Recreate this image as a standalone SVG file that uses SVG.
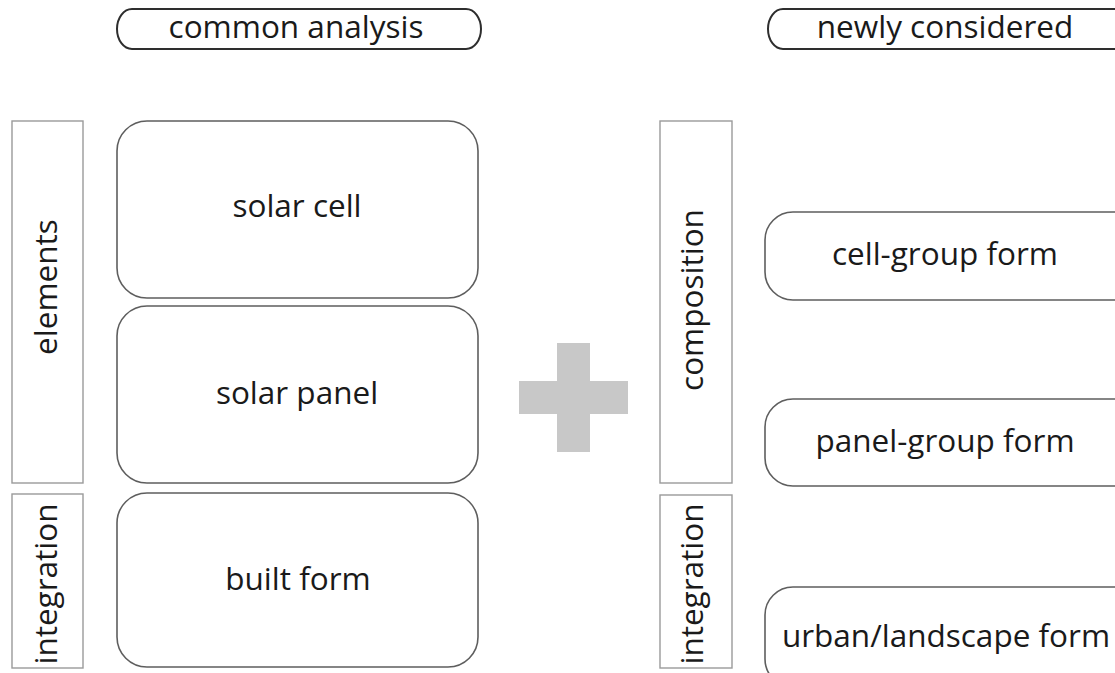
<svg xmlns="http://www.w3.org/2000/svg" width="1115" height="673" viewBox="0 0 1115 673">
  <style>
    .bg { fill: #ffffff; }
    .head { fill: #ffffff; stroke: #2e2e2e; stroke-width: 2; }
    .node { fill: #ffffff; stroke: #5e5e5e; stroke-width: 1.6; }
    .side { fill: #ffffff; stroke: #9a9a9a; stroke-width: 1.4; }
    .plus { fill: #c8c8c8; }
    text { font-family: "Open Sans", "Noto Sans", "DejaVu Sans", sans-serif; fill: #1a1a1a; text-anchor: middle; font-size: 31.5px; }
  </style>
  <rect class="bg" x="0" y="0" width="1115" height="673"/>

  <!-- column headers -->
  <g id="head-common">
    <rect class="head" x="117" y="9" width="364" height="40" rx="15" ry="20"/>
    <text x="296" y="38">common analysis</text>
  </g>
  <g id="head-new">
    <rect class="head" x="768" y="9" width="370" height="40" rx="15" ry="20"/>
    <text x="945" y="38">newly considered</text>
  </g>

  <!-- side category bars, left column -->
  <g id="cat-elements">
    <rect class="side" x="12" y="121" width="71" height="362"/>
    <text transform="translate(57 287) rotate(-90)">elements</text>
  </g>
  <g id="cat-integration-left">
    <rect class="side" x="12" y="494" width="71" height="174"/>
    <text transform="translate(57 584) rotate(-90)">integration</text>
  </g>

  <!-- common analysis nodes -->
  <g id="node-solar-cell">
    <rect class="node" x="117" y="121" width="361" height="177" rx="30"/>
    <text x="297" y="217">solar cell</text>
  </g>
  <g id="node-solar-panel">
    <rect class="node" x="117" y="306" width="361" height="177" rx="30"/>
    <text x="297" y="404">solar panel</text>
  </g>
  <g id="node-built-form">
    <rect class="node" x="117" y="493" width="361" height="174" rx="30"/>
    <text x="298" y="590">built form</text>
  </g>

  <!-- plus sign between the columns -->
  <g id="plus">
    <rect class="plus" x="519" y="381" width="109" height="33"/>
    <rect class="plus" x="557" y="343" width="33" height="109"/>
  </g>

  <!-- side category bars, right column -->
  <g id="cat-composition">
    <rect class="side" x="660" y="121" width="72" height="362"/>
    <text transform="translate(703 300) rotate(-90)">composition</text>
  </g>
  <g id="cat-integration-right">
    <rect class="side" x="660" y="495" width="72" height="173"/>
    <text transform="translate(703 584) rotate(-90)">integration</text>
  </g>

  <!-- newly considered nodes -->
  <g id="node-cell-group">
    <rect class="node" x="765" y="212" width="380" height="88" rx="28"/>
    <text x="945" y="265">cell-group form</text>
  </g>
  <g id="node-panel-group">
    <rect class="node" x="765" y="399" width="380" height="87" rx="28"/>
    <text x="945" y="452">panel-group form</text>
  </g>
  <g id="node-urban">
    <rect class="node" x="765" y="587" width="380" height="100" rx="28"/>
    <text x="946" y="647">urban/landscape form</text>
  </g>

  <!-- no connectors in this figure -->
  <g id="connectors"/>
</svg>
